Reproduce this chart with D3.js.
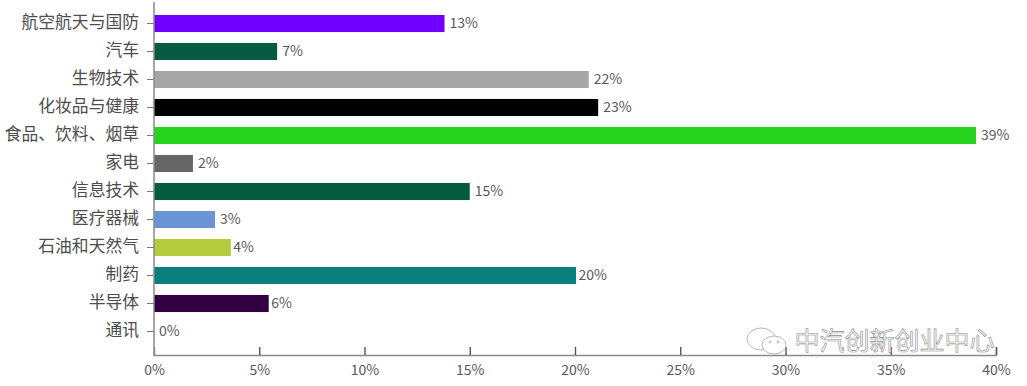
<!DOCTYPE html>
<html>
<head>
<meta charset="utf-8">
<script src="https://cdn.jsdelivr.net/npm/d3@7"></script>
<style>
html, body { margin: 0; padding: 0; background: #fff; }
svg { display: block; }
text { font-family: "Noto Sans CJK SC", "Noto Sans", sans-serif; }
</style>
</head>
<body>
<div id="chart"></div>
<script>
const categories = ["航空航天与国防", "汽车", "生物技术", "化妆品与健康", "食品、饮料、烟草", "家电", "信息技术", "医疗器械", "石油和天然气", "制药", "半导体", "通讯"];
const values = [13.8, 5.85, 20.65, 21.1, 39.05, 1.85, 15.0, 2.9, 3.65, 20.05, 5.45, 0];
const valueLabels = ["13%", "7%", "22%", "23%", "39%", "2%", "15%", "3%", "4%", "20%", "6%", "0%"];
const colors = ["#6f00ff", "#055c40", "#a6a6a6", "#000000", "#26d41f", "#666666", "#055c40", "#6a94d4", "#b5cb3e", "#0a7f7f", "#330044", "#ffffff"];
const xTicks = [0, 5, 10, 15, 20, 25, 30, 35, 40];
const tightLabels = ["石油和天然气", "制药", "半导体"];
const watermark = "中汽创新创业中心";

const width = 1027, height = 386;
const axisColor = "#8a8a8a", textColor = "#595959";

const svg = d3.select("#chart").append("svg")
    .attr("width", width)
    .attr("height", height);

const x = d3.scaleLinear().domain([0, 40]).range([154, 996]);
const y = d3.scaleBand().domain(categories).range([9.5, 345.5]).paddingInner(0.39).paddingOuter(0.195);

// bars
svg.append("g").selectAll("rect")
    .data(categories)
    .join("rect")
    .attr("x", x(0))
    .attr("y", d => y(d))
    .attr("width", (d, i) => x(values[i]) - x(0))
    .attr("height", y.bandwidth())
    .attr("fill", (d, i) => colors[i]);

// value labels
svg.append("g").selectAll("text")
    .data(categories)
    .join("text")
    .attr("x", (d, i) => x(values[i]) + (tightLabels.includes(d) ? 2.5 : 5))
    .attr("y", d => y(d) + y.bandwidth() / 2)
    .attr("dy", "0.35em")
    .attr("font-size", 14)
    .attr("fill", textColor)
    .text((d, i) => valueLabels[i]);

// category axis
const yAxis = svg.append("g")
    .attr("transform", `translate(${x(0)},0)`)
    .call(d3.axisLeft(y).tickSize(7).tickPadding(8));
yAxis.select(".domain").remove();
yAxis.selectAll(".tick line").attr("stroke", "#777");
yAxis.selectAll(".tick text")
    .attr("y", -1)
    .attr("font-size", 16.8)
    .attr("font-family", '"Noto Sans CJK SC", sans-serif')
    .attr("fill", "#4d4d4d");

svg.append("line")
    .attr("x1", x(0)).attr("x2", x(0))
    .attr("y1", 2).attr("y2", 356)
    .attr("stroke", axisColor)
    .attr("stroke-width", 1.5);

// value axis, ticks point up into the plot
const xAxis = svg.append("g")
    .attr("transform", "translate(0,355)")
    .call(d3.axisTop(x).tickValues(xTicks).tickFormat(d => d + "%").tickSizeOuter(0).tickSize(8));
xAxis.select(".domain").attr("stroke", axisColor).attr("stroke-width", 1.5);
xAxis.selectAll(".tick line").attr("stroke", "#555").attr("stroke-width", 1.4);
xAxis.selectAll(".tick text")
    .attr("y", 15)
    .attr("dy", "0.35em")
    .attr("font-size", 14)
    .attr("font-family", '"Noto Sans", sans-serif')
    .attr("fill", textColor);
xAxis.selectAll(".tick").filter(d => d === 0).select("line").remove();

// watermark, icon and outlined text
const mark = svg.append("g")
    .attr("fill", "#fff")
    .attr("stroke", "#8a8a8a")
    .attr("stroke-width", 0.6);
mark.append("ellipse").attr("cx", 761).attr("cy", 339).attr("rx", 14).attr("ry", 11);
mark.append("ellipse").attr("cx", 774).attr("cy", 345).attr("rx", 12).attr("ry", 9);
mark.append("circle").attr("cx", 770).attr("cy", 342).attr("r", 1);
mark.append("circle").attr("cx", 778).attr("cy", 342).attr("r", 1);
mark.append("text")
    .attr("x", 794.5)
    .attr("y", 350)
    .attr("font-size", 25)
    .text(watermark);
</script>
</body>
</html>
